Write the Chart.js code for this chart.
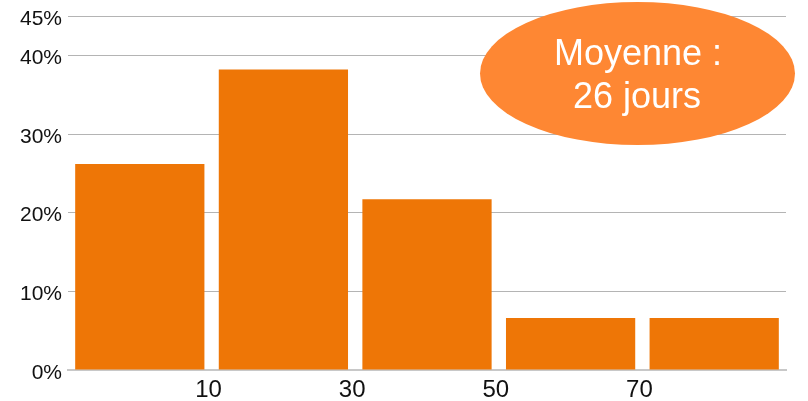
<!DOCTYPE html>
<html lang="fr">
<head>
    <meta charset="UTF-8">
    <title>Durée</title>
    <script src="https://cdn.jsdelivr.net/npm/chart.js"></script>
    <style>
        html, body { margin: 0; padding: 0; background: #fff; }
        #wrap { width: 808px; height: 401px; }
    </style>
</head>
<body>
    <div id="wrap"><canvas id="durChart"></canvas></div>

    <script>
        // bin centres (jours) and share of cases per bin (%)
        const binCenters = [0, 20, 40, 60, 80];
        const shares = [26.2, 38.2, 21.7, 6.6, 6.6];
        const xTicks = [10, 30, 50, 70];
        const yTicks = [0, 10, 20, 30, 40, 45];
        const noteLines = ["Moyenne :", "26 jours"];

        const FONT = "'Liberation Sans', Arial, sans-serif";

        // orange bubble with the mean
        const notePlugin = {
            id: "note",
            afterDatasetsDraw(chart) {
                const ctx = chart.ctx;
                ctx.save();
                ctx.beginPath();
                ctx.ellipse(637.5, 73.5, 157.5, 71.5, 0, 0, Math.PI * 2);
                ctx.fillStyle = "#fe8733";
                ctx.fill();
                ctx.fillStyle = "#ffffff";
                ctx.font = "36px " + FONT;
                ctx.textAlign = "center";
                ctx.textBaseline = "alphabetic";
                ctx.fillText(noteLines[0], 638, 65);
                ctx.fillText(noteLines[1], 637, 108);
                ctx.restore();
            }
        };

        new Chart(document.getElementById("durChart"), {
            type: "bar",
            data: {
                datasets: [{
                    data: binCenters.map((c, i) => ({ x: c, y: shares[i] })),
                    backgroundColor: "#ee7606",
                    borderWidth: 0,
                    categoryPercentage: 1,
                    barPercentage: 0.9
                }]
            },
            options: {
                responsive: true,
                maintainAspectRatio: false,
                animation: false,
                layout: { padding: { top: 16, right: 22, left: 0, bottom: 0 } },
                plugins: { legend: { display: false }, tooltip: { enabled: false } },
                scales: {
                    x: {
                        type: "linear",
                        offset: false,
                        min: -10,
                        max: 90,
                        afterBuildTicks: s => { s.ticks = xTicks.map(v => ({ value: v })); },
                        afterFit: s => { s.height = 31; },
                        grid: { display: false, drawTicks: false, offset: false },
                        border: { display: true, color: "#c8c8c8", width: 2 },
                        ticks: {
                            padding: 6,
                            labelOffset: -3,
                            color: "#111",
                            font: { family: FONT, size: 24 },
                            maxRotation: 0,
                            autoSkip: false
                        }
                    },
                    y: {
                        min: 0,
                        max: 45,
                        afterBuildTicks: s => { s.ticks = yTicks.map(v => ({ value: v })); },
                        afterFit: s => {
                            s.width = 68;
                            s.paddingTop = 0;
                            s.paddingBottom = 0;
                        },
                        grid: {
                            color: c => c.tick.value === 0 ? "rgba(0,0,0,0)" : "#b4b4b4",
                            lineWidth: 1,
                            drawTicks: false
                        },
                        border: { display: false },
                        ticks: {
                            padding: 6,
                            labelOffset: 3,
                            color: "#111",
                            font: { family: FONT, size: 21 },
                            callback: v => v + "%"
                        }
                    }
                }
            },
            plugins: [notePlugin]
        });
    </script>
</body>
</html>
